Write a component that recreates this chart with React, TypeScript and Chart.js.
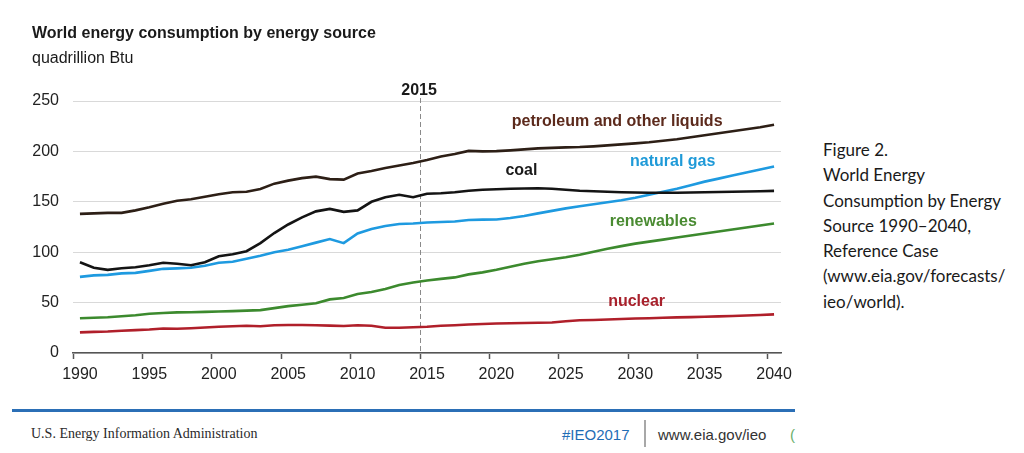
import React, { useEffect, useRef } from "react";
import { Chart, registerables } from "chart.js";

Chart.register(...registerables);

const years = [
  "1990", "1991", "1992", "1993", "1994", "1995", "1996", "1997", "1998", "1999",
  "2000", "2001", "2002", "2003", "2004", "2005", "2006", "2007", "2008", "2009",
  "2010", "2011", "2012", "2013", "2014", "2015", "2016", "2017", "2018", "2019",
  "2020", "2021", "2022", "2023", "2024", "2025", "2026", "2027", "2028", "2029",
  "2030", "2031", "2032", "2033", "2034", "2035", "2036", "2037", "2038", "2039",
  "2040",
];

const petroleum = [
  138, 138.5, 139, 139, 141.5, 144.5, 148, 151, 152.5, 155,
  157.5, 159.5, 160, 162.7, 168, 171, 173.5, 175, 172.5, 172,
  178, 180.5, 183.5, 186, 188.5, 191.5, 195, 197.5, 200.5, 200,
  200.3, 201, 202, 203, 203.5, 204, 204.3, 205, 206, 207,
  208, 209, 210.5, 212, 214, 216, 218, 220, 222, 224,
  226.5,
];

const coal = [
  90, 84.5, 82.5, 84, 85, 87, 89.5, 88.5, 87, 90,
  96, 98, 101, 109, 119, 127.5, 134.5, 140.5, 143, 140,
  141.5, 150, 154.5, 157, 154.5, 158, 158.5, 159.5, 161, 162,
  162.5, 163, 163.2, 163.5, 163, 162, 161, 160.5, 160, 159.5,
  159.2, 159, 159, 159, 159.2, 159.5, 159.7, 160, 160.2, 160.5,
  160.8,
];

const naturalGas = [
  75.5, 77, 77.5, 79, 79.5, 81.5, 83.5, 84, 84.5, 86.5,
  89.5, 90.5, 93.5, 96.5, 100, 102.5, 106, 109.5, 113, 109,
  118.5, 123, 126, 128, 128.5, 129.5, 130, 130.5, 132, 132.3,
  132.5, 134, 136, 138.5, 141, 143.5, 145.5, 147.5, 149.5, 151.5,
  154, 157, 160, 163, 166.5, 170, 173, 176, 179, 182,
  185,
];

const renewables = [
  34.5, 35, 35.5, 36.5, 37.5, 39, 39.7, 40.3, 40.5, 40.8,
  41.2, 41.5, 42, 42.5, 44.5, 46.5, 47.8, 49.3, 53.2, 54.6,
  58.5, 60.5, 63.5, 67.5, 70, 72, 73.5, 75, 78, 80,
  82.5, 85.5, 88.5, 91, 93, 95, 97.5, 100.5, 103.5, 106,
  108.5, 110.5, 112.5, 114.5, 116.5, 118.5, 120.5, 122.5, 124.5, 126.5,
  128.5,
];

const nuclear = [
  20.5, 21, 21.3, 22, 22.7, 23.3, 24.3, 24, 24.6, 25.3,
  26, 26.5, 27, 26.5, 27.5, 27.8, 27.8, 27.5, 27.2, 26.8,
  27.5, 27, 25, 25, 25.5, 26, 27, 27.5, 28.3, 28.8,
  29.2, 29.5, 29.8, 30, 30.3, 31.5, 32.5, 32.8, 33.2, 33.7,
  34.2, 34.5, 35, 35.3, 35.6, 35.9, 36.3, 36.7, 37.2, 37.7,
  38.3,
];

const yTicks = [0, 50, 100, 150, 200, 250];
const projectionStartYear = "2015";

const seriesNames = ["petroleum and other liquids", "coal", "natural gas", "renewables", "nuclear"];
const lineColors = ["#2d1f16", "#141414", "#1e9ae0", "#3c8a2e", "#b01f2a"];
const labelColors = ["#5c2a1c", "#1a1a1a", "#1f9ad8", "#4a8b32", "#a8212c"];
// label anchor positions in data units (year, quadrillion Btu)
const labelYears = [2028.7, 2021.8, 2032.7, 2031.3, 2030.1];
const labelValues = [230, 180.5, 189.5, 130, 50.6];

const captionLines = [
  "Figure 2.",
  "World Energy",
  "Consumption by Energy",
  "Source 1990–2040,",
  "Reference Case",
  "(www.eia.gov/forecasts/",
  "ieo/world).",
];

const SANS = '"Liberation Sans", Arial, Helvetica, sans-serif';

const annotationPlugin = {
  id: "eiaAnnotations",
  beforeDatasetsDraw(chart: any) {
    const { ctx, chartArea, scales } = chart;
    const x = scales.x.getPixelForValue(years.indexOf(projectionStartYear) - 0.5);
    ctx.save();
    ctx.strokeStyle = "#8a8a8a";
    ctx.lineWidth = 1;
    ctx.setLineDash([5, 3]);
    ctx.beginPath();
    ctx.moveTo(Math.round(x) + 0.5, chartArea.top - 3);
    ctx.lineTo(Math.round(x) + 0.5, chartArea.bottom);
    ctx.stroke();
    ctx.restore();
  },
  afterDatasetsDraw(chart: any) {
    const { ctx, chartArea, scales } = chart;
    ctx.save();
    ctx.font = `bold 16px ${SANS}`;
    ctx.textAlign = "center";
    ctx.textBaseline = "alphabetic";
    ctx.fillStyle = "#1a1a1a";
    const x = scales.x.getPixelForValue(years.indexOf(projectionStartYear) - 0.5);
    ctx.fillText(projectionStartYear, x - 1, chartArea.top - 6);
    ctx.textBaseline = "middle";
    for (let i = 0; i < seriesNames.length; i++) {
      const px = scales.x.getPixelForValue(labelYears[i] - Number(years[0]));
      const py = scales.y.getPixelForValue(labelValues[i]);
      ctx.fillStyle = labelColors[i];
      ctx.fillText(seriesNames[i], px, py);
    }
    ctx.restore();
  },
};

function EnergyChart() {
  const ref = useRef<HTMLCanvasElement | null>(null);
  useEffect(() => {
    if (!ref.current) return;
    const seriesData = [petroleum, coal, naturalGas, renewables, nuclear];
    const chart = new Chart(ref.current, {
      type: "line",
      data: {
        labels: years,
        datasets: seriesData.map((d, i) => ({
          label: seriesNames[i],
          data: d,
          borderColor: lineColors[i],
          backgroundColor: lineColors[i],
          borderWidth: 2.6,
          pointRadius: 0,
          tension: 0,
          fill: false,
        })),
      },
      options: {
        animation: false,
        responsive: false,
        devicePixelRatio: 1,
        layout: { padding: { top: 101, right: 19, left: 0, bottom: 0 } },
        plugins: { legend: { display: false }, tooltip: { enabled: false } },
        scales: {
          x: {
            type: "category",
            offset: true,
            grid: {
              offset: true,
              drawOnChartArea: false,
              drawTicks: true,
              tickLength: 6,
              tickWidth: 1.5,
              tickColor: (c: any) => {
                const lbl = years[c.index];
                return lbl && Number(lbl) % 5 === 0 ? "#555" : "rgba(0,0,0,0)";
              },
            },
            border: { display: true, color: "#555", width: 1.5 },
            ticks: {
              autoSkip: false,
              maxRotation: 0,
              padding: 6,
              color: "#222",
              font: { family: SANS, size: 16 },
              callback: (_v: any, index: number) =>
                Number(years[index]) % 5 === 0 ? years[index] : "",
            },
            afterFit: (s: any) => {
              s.height = 42;
            },
          },
          y: {
            min: yTicks[0],
            max: yTicks[yTicks.length - 1],
            afterBuildTicks: (s: any) => {
              s.ticks = yTicks.map((v) => ({ value: v }));
            },
            ticks: { padding: 14, color: "#222", font: { family: SANS, size: 16 } },
            grid: { color: "#d9d9d9", drawTicks: false, lineWidth: 1 },
            border: { display: false },
            afterFit: (s: any) => {
              s.width = 73;
            },
          },
        },
      },
      plugins: [annotationPlugin],
    } as any);
    return () => chart.destroy();
  }, []);
  return (
    <canvas
      ref={ref}
      width={800}
      height={395}
      style={{ position: "absolute", left: 0, top: 0, width: 800, height: 395 }}
    />
  );
}

export default function App() {
  return (
    <div
      style={{
        position: "absolute",
        left: 0,
        top: 0,
        width: 1024,
        height: 453,
        background: "#ffffff",
        overflow: "hidden",
      }}
    >
      <EnergyChart />
      <div
        style={{
          position: "absolute",
          left: 32,
          top: 25,
          font: `bold 16px ${SANS}`,
          lineHeight: "16px",
          color: "#1a1a1a",
          whiteSpace: "nowrap",
        }}
      >
        World energy consumption by energy source
      </div>
      <div
        style={{
          position: "absolute",
          left: 32,
          top: 50,
          font: `16px ${SANS}`,
          lineHeight: "16px",
          color: "#1a1a1a",
          whiteSpace: "nowrap",
        }}
      >
        quadrillion Btu
      </div>
      <div
        style={{
          position: "absolute",
          left: 823,
          top: 137,
          font: `17px Lato, "Open Sans", sans-serif`,
          lineHeight: "25.3px",
          color: "#1a1a1a",
          whiteSpace: "nowrap",
        }}
      >
        {captionLines.map((l, i) => (
          <div key={i}>{l}</div>
        ))}
      </div>
      <div
        style={{
          position: "absolute",
          left: 12,
          top: 409,
          width: 783,
          height: 3,
          background: "#2b6fb6",
        }}
      />
      <div
        style={{
          position: "absolute",
          left: 31,
          top: 427,
          font: `14px "Liberation Serif", "Times New Roman", serif`,
          lineHeight: "14px",
          color: "#2a2a2a",
          whiteSpace: "nowrap",
        }}
      >
        U.S. Energy Information Administration
      </div>
      <div
        style={{
          position: "absolute",
          left: 562,
          top: 427,
          font: `15px ${SANS}`,
          lineHeight: "15px",
          color: "#1f6db5",
          whiteSpace: "nowrap",
        }}
      >
        #IEO2017
      </div>
      <div
        style={{
          position: "absolute",
          left: 644,
          top: 420,
          width: 1.5,
          height: 27,
          background: "#a8a8a8",
        }}
      />
      <div
        style={{
          position: "absolute",
          left: 658,
          top: 427,
          font: `15px ${SANS}`,
          lineHeight: "15px",
          color: "#333",
          whiteSpace: "nowrap",
        }}
      >
        www.eia.gov/ieo
      </div>
      <div
        style={{
          position: "absolute",
          left: 790,
          top: 427,
          font: `15px ${SANS}`,
          lineHeight: "15px",
          color: "#6aae6a",
          whiteSpace: "nowrap",
        }}
      >
        (
      </div>
    </div>
  );
}
